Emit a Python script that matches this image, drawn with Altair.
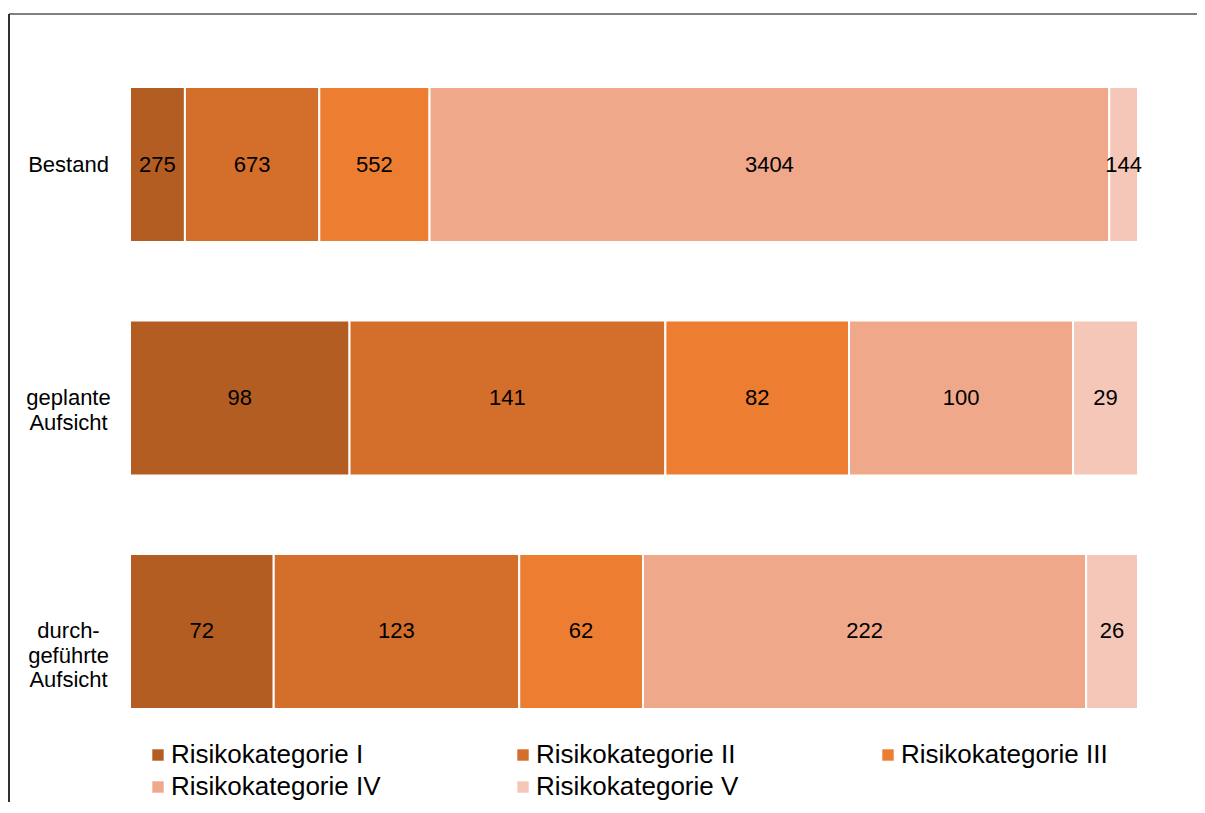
import altair as alt
import pandas as pd

groups = ["Bestand", "geplante\nAufsicht", "durch-\ngeführte\nAufsicht"]
categories = ["Risikokategorie I", "Risikokategorie II", "Risikokategorie III",
              "Risikokategorie IV", "Risikokategorie V"]
bestand = [275, 673, 552, 3404, 144]
geplant = [98, 141, 82, 100, 29]
durchgefuehrt = [72, 123, 62, 222, 26]
colors = ["#B45D22", "#D46E2B", "#ED7D31", "#F0A88A", "#F4C7B8"]

rows = []
for g, vals in zip(groups, [bestand, geplant, durchgefuehrt]):
    for i, (c, v) in enumerate(zip(categories, vals)):
        rows.append({"group": g, "cat": c, "order": i, "value": v})
df = pd.DataFrame(rows)

FONT = "Liberation Sans"

base = alt.Chart(df).transform_stack(
    stack="value", groupby=["group"], as_=["x0", "x1"],
    sort=[alt.SortField("order", order="ascending")], offset="normalize"
).transform_calculate(mid="(datum.x0 + datum.x1) / 2")

yenc = alt.Y("group:N", sort=groups, title=None,
             scale=alt.Scale(paddingInner=0.336, paddingOuter=0),
             axis=alt.Axis(labelExpr="split(datum.label, '\\n')", ticks=False,
                           domain=False, labelAlign="center", labelPadding=62,
                           labelFontSize=22, labelLineHeight=24.5, labelColor="#000000",
                           labelFont=FONT, labelBaseline="middle"))

bars = base.mark_bar(stroke="white", strokeWidth=2).encode(
    x=alt.X("x0:Q", axis=None, scale=alt.Scale(domain=[0, 1], nice=False, zero=True)),
    x2="x1:Q",
    y=yenc,
    color=alt.Color("cat:N", sort=categories,
                    scale=alt.Scale(domain=categories, range=colors),
                    legend=alt.Legend(title=None, orient="none", legendX=15, legendY=655,
                                      direction="horizontal", columns=3, gridAlign="all",
                                      symbolType="square", symbolSize=130,
                                      symbolStrokeWidth=0, labelFontSize=26,
                                      labelFont=FONT, labelColor="#000000",
                                      labelLimit=400, labelOffset=0,
                                      columnPadding=129, rowPadding=6, padding=0)),
)

labels = base.mark_text(fontSize=22, font=FONT, color="#000000", baseline="middle").encode(
    x=alt.X("mid:Q"),
    y=alt.Y("group:N", sort=groups),
    text=alt.Text("value:Q"),
)

frame_top = alt.Chart(df).mark_rule(color="#808080", strokeWidth=1.5).encode(
    x=alt.value(-121), x2=alt.value(1100), y=alt.value(-73))
frame_left = alt.Chart(df).mark_rule(color="#303030", strokeWidth=1).encode(
    x=alt.value(-121), y=alt.value(-73), y2=alt.value(800))

chart = alt.layer(bars, labels, frame_top, frame_left).properties(
    width=1008, height=622,
    background="white",
    autosize=alt.AutoSizeParams(type="none"),
    padding={"left": 122, "top": 79, "right": 59, "bottom": 93},
).configure_view(strokeWidth=0, stroke="transparent")

chart.save("out.html", embed_options={"renderer": "svg", "actions": False})
